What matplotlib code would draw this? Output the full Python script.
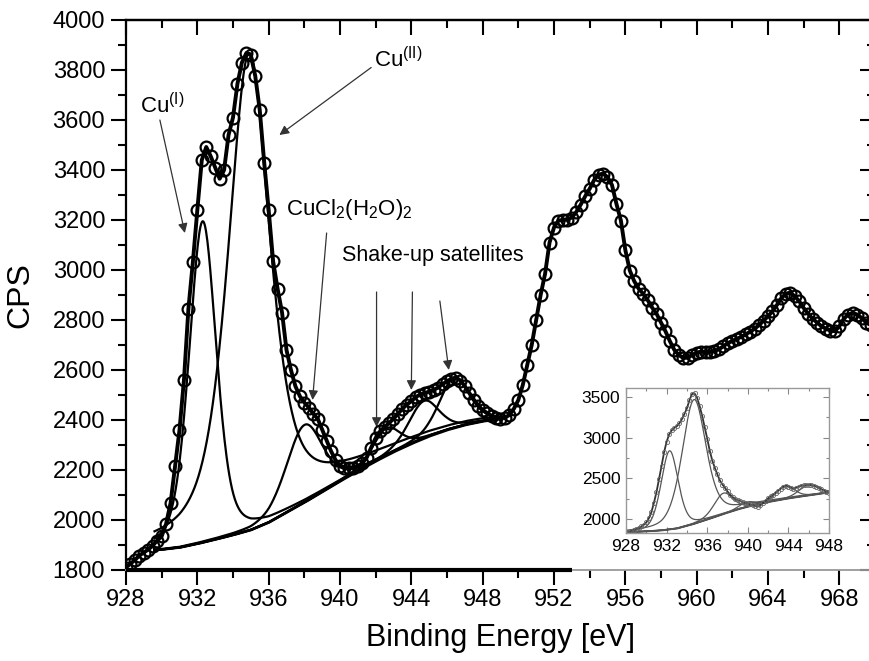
import numpy as np
import matplotlib
matplotlib.use("Agg")
import matplotlib.pyplot as plt
from matplotlib.ticker import MultipleLocator, NullFormatter

plt.rcParams['font.family'] = ['Liberation Sans', 'DejaVu Sans']
plt.rcParams['mathtext.fontset'] = 'custom'
plt.rcParams['mathtext.rm'] = 'Liberation Sans'
plt.rcParams['mathtext.it'] = 'Liberation Sans:italic'
plt.rcParams['mathtext.bf'] = 'Liberation Sans:bold'

# ---------------- main spectrum (measured points, 0.25 eV step) ----------------
energy = np.arange(928.0, 970.0, 0.25)
cps = [
    1810, 1825, 1840, 1858, 1870, 1882, 1898, 1918,
    1935, 1985, 2068, 2215, 2360, 2560, 2845, 3032,
    3240, 3440, 3492, 3455, 3410, 3365, 3400, 3540,
    3610, 3745, 3830, 3868, 3860, 3775, 3640, 3430,
    3240, 3035, 2925, 2830, 2680, 2600, 2535, 2495,
    2470, 2450, 2425, 2405, 2362, 2318, 2275, 2240,
    2218, 2210, 2208, 2210, 2215, 2228, 2250, 2290,
    2328, 2355, 2372, 2388, 2405, 2425, 2445, 2462,
    2475, 2492, 2502, 2508, 2513, 2520, 2530, 2543,
    2555, 2565, 2570, 2558, 2535, 2508, 2482, 2458,
    2440, 2428, 2416, 2408, 2406, 2410, 2420, 2445,
    2480, 2540, 2620, 2700, 2800, 2900, 2985, 3110,
    3170, 3198, 3200, 3202, 3210, 3232, 3262, 3295,
    3325, 3360, 3382, 3385, 3372, 3340, 3265, 3198,
    3080, 2998, 2955, 2925, 2905, 2880, 2850, 2825,
    2790, 2755, 2715, 2680, 2660, 2648, 2650, 2660,
    2670, 2673, 2672, 2672, 2676, 2683, 2695, 2708,
    2716, 2724, 2733, 2743, 2753, 2765, 2780, 2797,
    2815, 2835, 2860, 2888, 2905, 2910, 2895, 2875,
    2848, 2825, 2805, 2790, 2775, 2765, 2758, 2755,
    2775, 2805, 2822, 2828, 2822, 2808, 2790, 2780,
]

# Shirley-type background
base_x = [929.6, 930.0, 931.0, 932.0, 933.0, 934.0, 935.0, 936.0, 937.0, 938.0, 939.0,
          940.0, 941.0, 942.0, 943.0, 944.0, 945.0, 946.0, 947.0, 948.0, 948.8]
base_y = [1880, 1882, 1890, 1905, 1922, 1940, 1960, 1990, 2030, 2070, 2112,
          2155, 2196, 2235, 2272, 2305, 2335, 2360, 2380, 2395, 2402]

# fitted components: Cu(I), Cu(II), CuCl2(H2O)2, shake-up satellites
peak_center = [932.3, 934.9, 938.0, 942.6, 944.7, 946.4]
peak_height = [1285, 1910, 310, 110, 150, 200]
peak_fwhm = [1.8, 2.8, 2.4, 1.8, 2.0, 2.0]
peak_eta = [0.35, 0.6, 0.3, 0.3, 0.3, 0.3]

# ---------------- inset spectrum ----------------
inset_energy = np.arange(928.0, 948.01, 0.25)
inset_cps = [
    1838, 1845, 1852, 1862, 1875, 1890, 1910, 1930,
    1960, 2010, 2085, 2200, 2330, 2490, 2650, 2820,
    2950, 3040, 3090, 3120, 3140, 3175, 3225, 3290,
    3360, 3460, 3535, 3545, 3490, 3390, 3270, 3130,
    2990, 2840, 2720, 2630, 2550, 2475, 2425, 2385,
    2340, 2300, 2272, 2250, 2235, 2222, 2210, 2200,
    2190, 2180, 2170, 2160, 2155, 2170, 2200, 2228,
    2255, 2280, 2300, 2325, 2350, 2375, 2395, 2405,
    2400, 2385, 2370, 2385, 2400, 2410, 2415, 2418,
    2420, 2418, 2410, 2400, 2385, 2365, 2350, 2335,
    2325,
]
inset_base_x = [928.0, 930.0, 931.5, 933.0, 934.5, 936.0, 937.5, 939.0, 940.5, 942.0,
                943.5, 945.0, 946.5, 948.0]
inset_base_y = [1838, 1850, 1862, 1885, 1935, 1995, 2060, 2120, 2170, 2210,
                2245, 2275, 2300, 2330]
inset_center = [932.3, 934.7, 937.6, 939.9, 943.7, 946.0]
inset_height = [965, 1525, 255, 60, 165, 130]
inset_fwhm = [2.0, 2.8, 2.2, 1.8, 2.0, 2.2]
inset_eta = [0.3, 0.4, 0.3, 0.3, 0.3, 0.3]


def pvoigt(x, c, h, w, eta):
    u = (x - c) / w
    return h * (eta / (1 + 4 * u ** 2) + (1 - eta) * np.exp(-4 * np.log(2) * u ** 2))


fig = plt.figure(figsize=(8.69, 6.61), dpi=100)
ax = fig.add_axes([126 / 869, 91 / 661, 749 / 869, 550 / 661])
ax.set_xlim(928, 970)
ax.set_ylim(1800, 4000)

grid = np.linspace(base_x[0], base_x[-1], 500)
bg = np.interp(grid, base_x, base_y)
ax.plot(grid, bg, color='black', lw=2.0, zorder=3)
for c, h, w, e in zip(peak_center, peak_height, peak_fwhm, peak_eta):
    ax.plot(grid, bg + pvoigt(grid, c, h, w, e), color='black', lw=1.6, zorder=3)

ax.plot(energy, cps, color='black', lw=2.8, zorder=4)
ax.plot(energy, cps, 'o', ms=8.5, mfc='none', mec='black', mew=1.6, zorder=5)

# axes styling
ax.xaxis.set_major_locator(MultipleLocator(4))
ax.xaxis.set_minor_locator(MultipleLocator(2))
ax.yaxis.set_major_locator(MultipleLocator(200))
ax.yaxis.set_minor_locator(MultipleLocator(100))
ax.tick_params(which='major', direction='out', length=11, width=1.5, labelsize=17, pad=4)
ax.tick_params(axis='x', which='major', pad=3)
ax.tick_params(which='minor', direction='out', length=6, width=1.5)
for s in ['left', 'top', 'right']:
    ax.spines[s].set_linewidth(1.6)
ax.spines['bottom'].set_color('#999999')
ax.spines['bottom'].set_linewidth(1.3)
ax.plot([928, 953], [0, 0], transform=ax.get_xaxis_transform(), color='black', lw=3,
        clip_on=False, solid_capstyle='butt', zorder=6)

st = ax.secondary_xaxis('top')
st.xaxis.set_major_locator(MultipleLocator(4))
st.xaxis.set_minor_locator(MultipleLocator(2))
st.xaxis.set_major_formatter(NullFormatter())
st.tick_params(which='major', direction='in', length=11, width=1.5)
st.tick_params(which='minor', direction='in', length=6, width=1.5)
st.spines['top'].set_linewidth(1.6)

sr = ax.secondary_yaxis('right')
sr.yaxis.set_major_locator(MultipleLocator(200))
sr.yaxis.set_minor_locator(MultipleLocator(100))
sr.yaxis.set_major_formatter(NullFormatter())
sr.tick_params(which='major', direction='in', length=11, width=1.5)
sr.tick_params(which='minor', direction='in', length=6, width=1.5)

ax.set_xlabel('Binding Energy [eV]', fontsize=22, labelpad=8)
ax.set_ylabel('CPS', fontsize=23, labelpad=12)

# annotations
arrow = dict(arrowstyle='-|>', color='#333333', lw=0.9, mutation_scale=14, shrinkA=0, shrinkB=0)
ax.text(928.78, 3628, r'Cu$^{\rm (I)}$', fontsize=16, va='baseline')
ax.annotate('', xy=(931.3, 3148), xytext=(929.9, 3600), arrowprops=arrow)
ax.text(941.93, 3812, r'Cu$^{\rm (II)}$', fontsize=16, va='baseline')
ax.annotate('', xy=(936.6, 3540), xytext=(941.75, 3810), arrowprops=arrow)
ax.text(937.0, 3220, r'CuCl$_2$(H$_2$O)$_2$', fontsize=16, va='baseline')
ax.annotate('', xy=(938.46, 2480), xytext=(939.25, 3148), arrowprops=arrow)
ax.text(940.14, 3036, 'Shake-up satellites', fontsize=15.5, va='baseline')
ax.annotate('', xy=(942.05, 2372), xytext=(942.05, 2912), arrowprops=arrow)
ax.annotate('', xy=(944.0, 2520), xytext=(944.06, 2912), arrowprops=arrow)
ax.annotate('', xy=(946.1, 2600), xytext=(945.6, 2876), arrowprops=arrow)

# ---------------- inset ----------------
axin = fig.add_axes([626 / 869, 128 / 661, 203 / 869, 145 / 661])
axin.set_zorder(10)
axin.set_facecolor('white')
axin.set_xlim(928, 948)
axin.set_ylim(1830, 3610)
igrid = np.linspace(928.0, 948.0, 400)
ibg = np.interp(igrid, inset_base_x, inset_base_y)
axin.plot(igrid, ibg, color='#333333', lw=1.4)
for c, h, w, e in zip(inset_center, inset_height, inset_fwhm, inset_eta):
    axin.plot(igrid, ibg + pvoigt(igrid, c, h, w, e), color='#555555', lw=0.9)
axin.plot(inset_energy, inset_cps, color='#333333', lw=1.3)
axin.plot(inset_energy, inset_cps, 'o', ms=3, mfc='none', mec='#666666', mew=0.6)
axin.xaxis.set_major_locator(MultipleLocator(4))
axin.xaxis.set_minor_locator(MultipleLocator(2))
axin.yaxis.set_major_locator(MultipleLocator(500))
axin.yaxis.set_minor_locator(MultipleLocator(250))
axin.tick_params(which='both', direction='in', top=True, right=True, color='#888888',
                 labelsize=12.5, pad=4)
axin.tick_params(which='major', length=4, width=0.8)
axin.tick_params(which='minor', length=2.5, width=0.8)
for s in axin.spines.values():
    s.set_color('#999999')
    s.set_linewidth(1.0)

fig.savefig('out.png', dpi=100)
